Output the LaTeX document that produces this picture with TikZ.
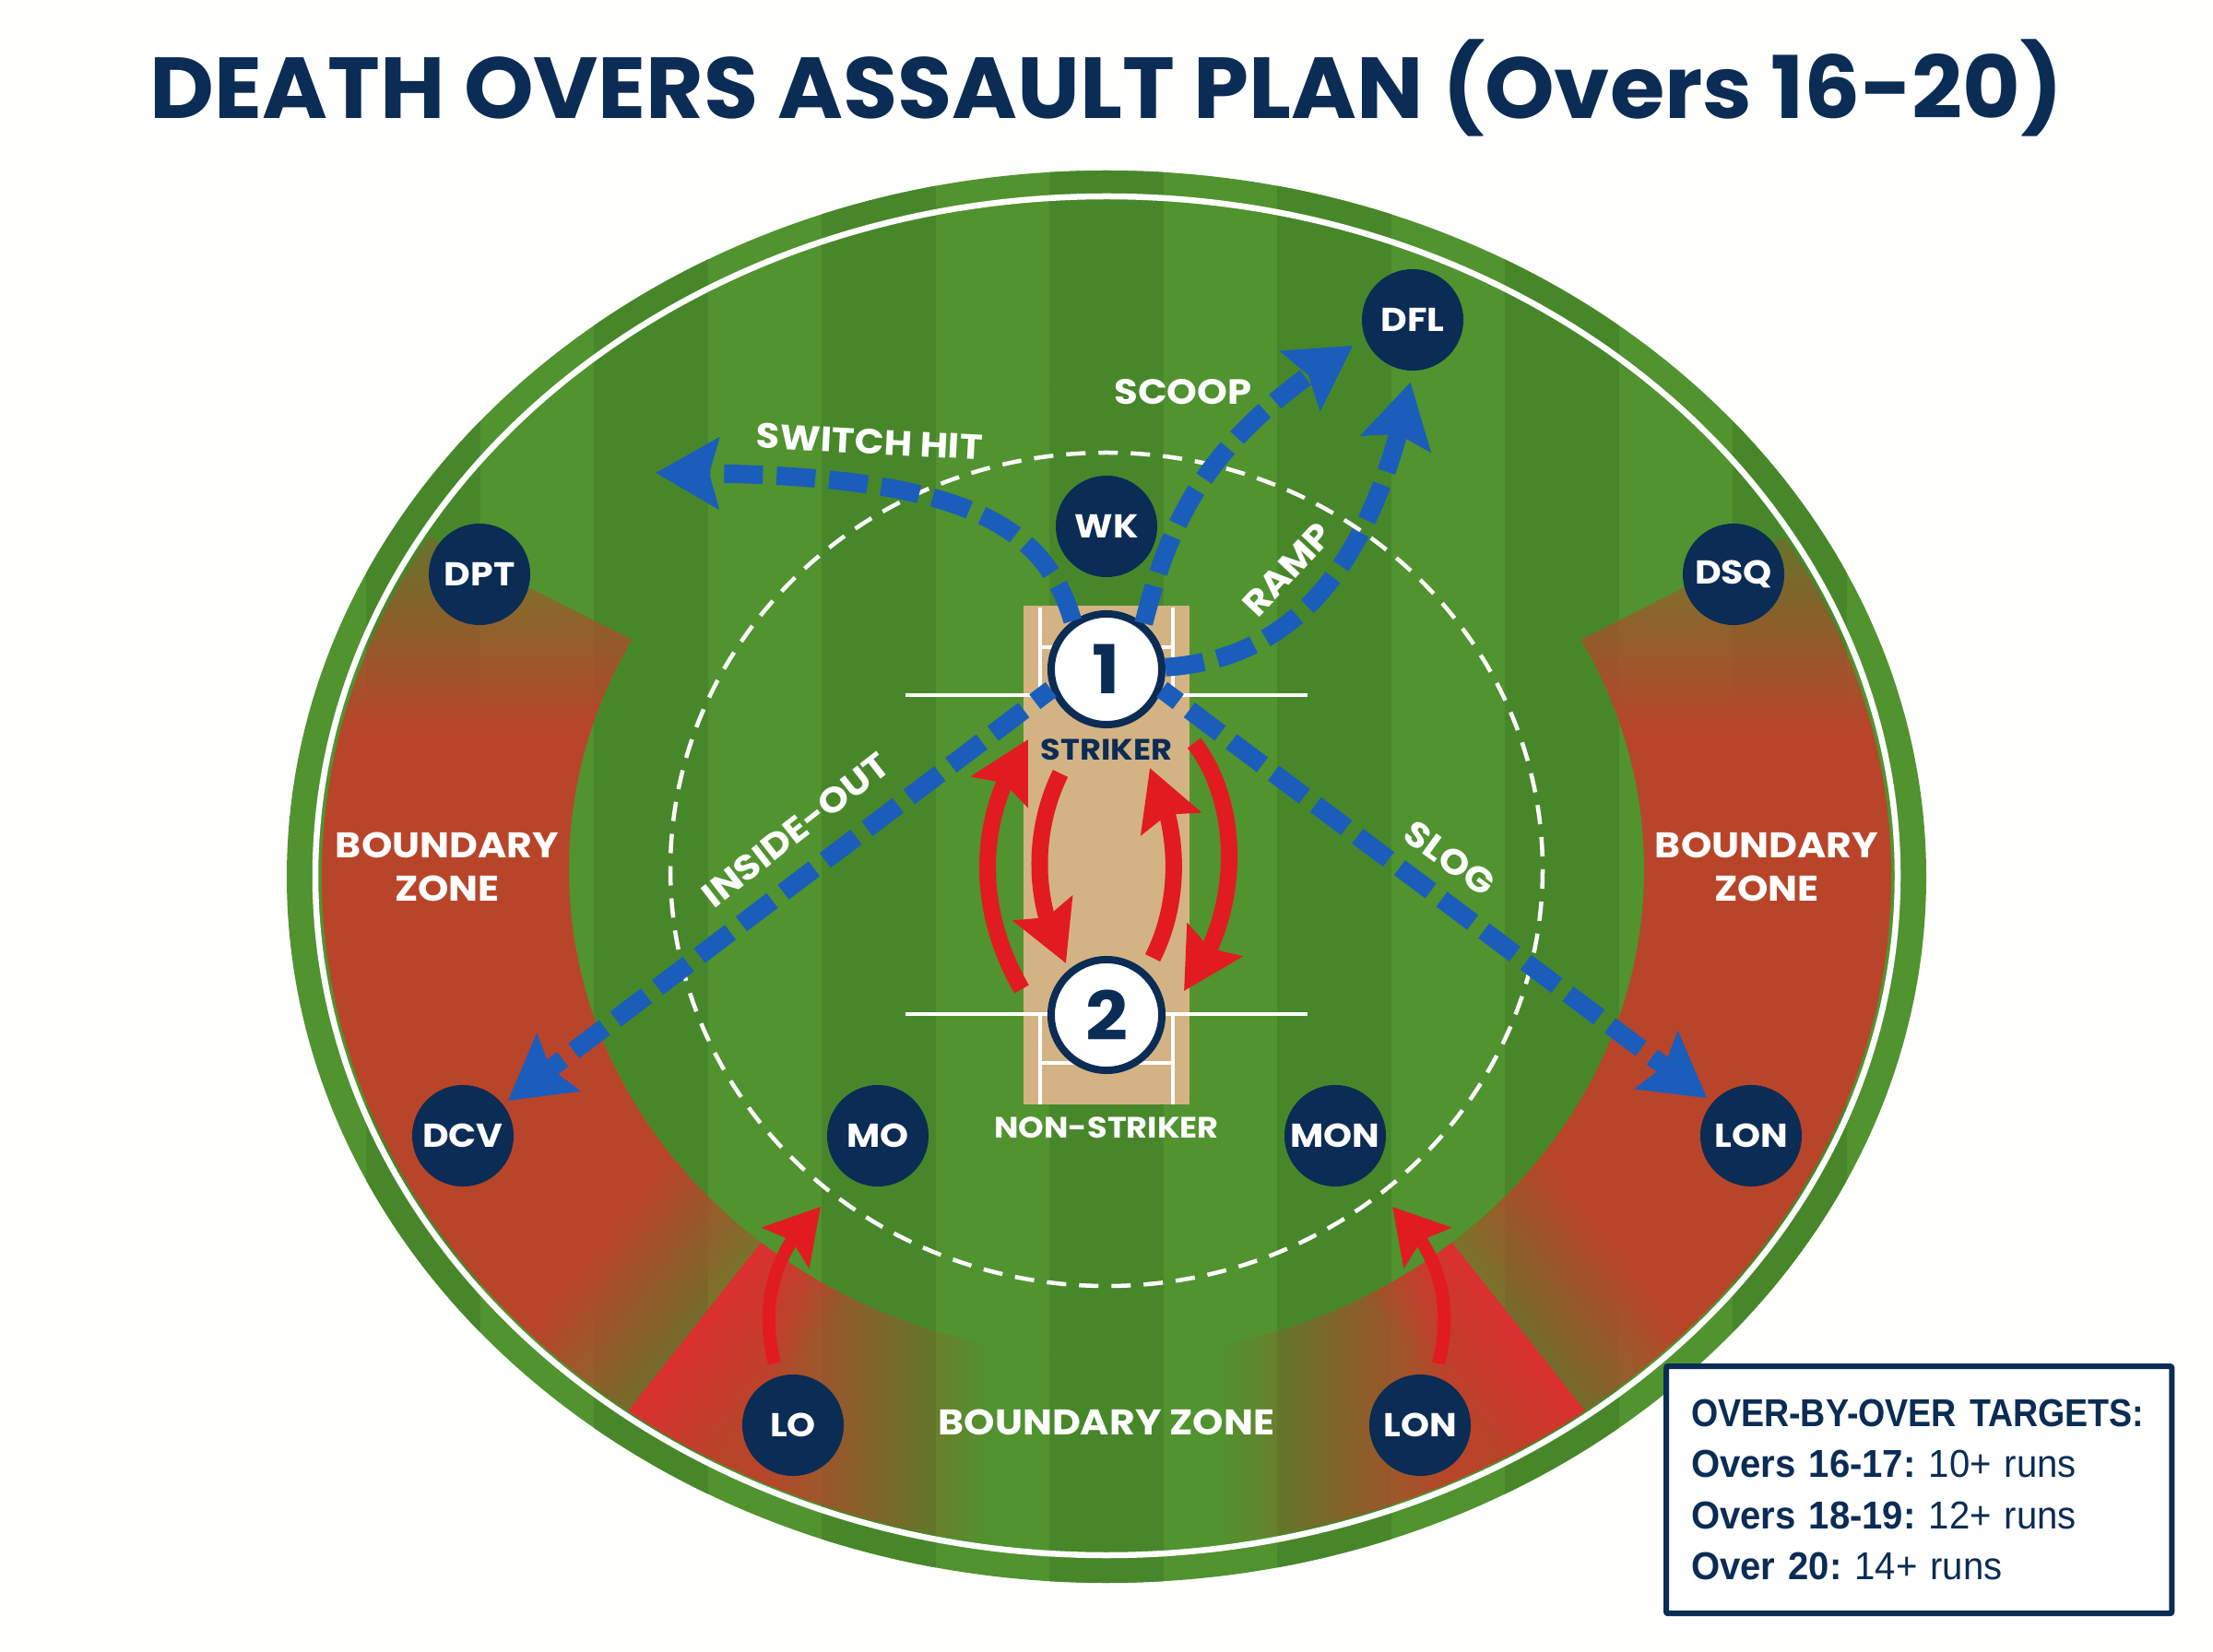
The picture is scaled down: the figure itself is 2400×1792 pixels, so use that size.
\documentclass[tikz,border=0pt]{standalone}
\usepackage{fontspec}
\setmainfont{Poppins}[FakeStretch=1.1]
\newfontfamily\titlefont{Poppins}[FakeStretch=1.025]
\newfontfamily\legfont{Liberation Sans}[FakeStretch=0.95,WordSpace=0.7]
\newfontfamily\leghead{Liberation Sans}[FakeStretch=0.89,WordSpace=0.7]
\usetikzlibrary{arrows.meta,fadings,bending}
\definecolor{navy}{HTML}{0B2C55}
\definecolor{grasslight}{HTML}{50932F}
\definecolor{grassdark}{HTML}{47872A}
\definecolor{zonered}{HTML}{B8452A}
\definecolor{zonebright}{HTML}{DC3030}
\definecolor{pitchtan}{HTML}{D3B383}
\definecolor{shotblue}{HTML}{1B5DBB}
\definecolor{runred}{HTML}{E21B20}
\definecolor{paper}{HTML}{FEFEFC}
\tikzfading[name=zoneup, top color=transparent!100, bottom color=transparent!0]
\tikzfading[name=zoneedge, left color=transparent!60, right color=transparent!0]
\tikzfading[name=brightedge, left color=transparent!100, right color=transparent!0]
\tikzfading[name=towardright, left color=transparent!0, right color=transparent!100]
\tikzfading[name=towardleft, left color=transparent!100, right color=transparent!0]
\newcommand{\grassbands}{%
  \fill[grasslight] (300,170) rectangle (2100,1730);
  \foreach \k in {-4,...,4}{\fill[grassdark] ({1138+247*\k},170) rectangle ({1262+247*\k},1730);}%
}
\tikzset{
  fielder/.style={circle,fill=navy,text=white,minimum size=1.1cm,inner sep=0pt,font=\bfseries\fontsize{10.2}{12}\selectfont},
  batter/.style={circle,fill=white,draw=navy,line width=0.08cm,minimum size=1.2cm,inner sep=0pt,text=navy,font=\bfseries\fontsize{20.8}{24}\selectfont},
  shotlabel/.style={text=white,inner sep=0pt,font=\bfseries\fontsize{10.8}{13}\selectfont},
  zonelabel/.style={text=white,inner sep=0pt,align=center,font=\bfseries\fontsize{11}{13.4}\selectfont},
  endlabel/.style={inner sep=0pt,font=\bfseries\fontsize{9.1}{11}\selectfont},
  crease/.style={white,line width=0.045cm},
  shot/.style={draw=shotblue,line width=0.2cm,dash pattern=on 0.42cm off 0.15cm,-{Stealth[length=0.68cm,width=0.76cm,inset=0.1cm]}},
  runpath/.style={draw=runred,line width=0.18cm,-{Stealth[length=0.64cm,width=0.68cm,inset=0.1cm]}},
  pushup/.style={draw=runred,line width=0.14cm,-{Stealth[length=0.58cm,width=0.66cm,inset=0.1cm]}},
}
\begin{document}
\begin{tikzpicture}[x=0.01cm,y=-0.01cm]
\useasboundingbox (0,0) rectangle (2400,1792);
\fill[paper] (0,0) rectangle (2400,1792);
% ground
\begin{scope}
  \clip (1200,951) ellipse [x radius=889,y radius=766];
  \grassbands
\end{scope}
% boundary zones
\begin{scope}
  \clip (1200,951) ellipse [x radius=851,y radius=731];
  % left
  \fill[zonered,path fading=zoneup] (300,498) -- (760,732) -- (760,790) -- (300,790) -- cycle;
  \fill[zonered] (300,788) -- (1003,788) -- (1003,912) -- (396,1682) -- (300,1682) -- cycle;
  \fill[zonered,path fading=zoneedge,fit fading=false,fading transform={shift={(719.5,1377)},rotate=141.7,xscale=0.739,yscale=2.72}]
    (919,1229) -- (622,1606) -- (520,1525) -- (817,1148) -- cycle;
  % right
  \fill[zonered,path fading=zoneup] (2100,498) -- (1640,732) -- (1640,790) -- (2100,790) -- cycle;
  \fill[zonered] (2100,788) -- (1397,788) -- (1397,912) -- (2004,1682) -- (2100,1682) -- cycle;
  \fill[zonered,path fading=zoneedge,fit fading=false,fading transform={shift={(1680.5,1377)},rotate=38.3,xscale=0.739,yscale=2.72}]
    (1481,1229) -- (1778,1606) -- (1880,1525) -- (1583,1148) -- cycle;
  % bottom
  \fill[zonered] (826,1347) -- (590,1646) -- (830,1750) -- (830,1340) -- cycle;
  \fill[zonered,path fading=towardright] (828,1340) rectangle (1075,1750);
  \fill[zonered] (1574,1347) -- (1810,1646) -- (1570,1750) -- (1570,1340) -- cycle;
  \fill[zonered,path fading=towardleft] (1325,1340) rectangle (1572,1750);
  \fill[zonebright,path fading=brightedge,fit fading=false,fading transform={shift={(813.5,1451.5)},rotate=141.7,xscale=0.625,yscale=2.72}]
    (919,1229) -- (622,1606) -- (708,1674) -- (1005,1297) -- cycle;
  \fill[zonebright,path fading=brightedge,fit fading=false,fading transform={shift={(1586.5,1451.5)},rotate=38.3,xscale=0.625,yscale=2.72}]
    (1481,1229) -- (1778,1606) -- (1692,1674) -- (1395,1297) -- cycle;
\end{scope}
% inner field
\begin{scope}
  \clip (1200,943) ellipse [x radius=583,y radius=528];
  \grassbands
\end{scope}
% boundary rope and thirty-yard circle
\draw[white,line width=0.065cm] (1200,950) ellipse [x radius=858,y radius=737];
\draw[white,line width=0.045cm,dash pattern=on 0.21cm off 0.14cm] (1200,943) ellipse [x radius=473,y radius=452];
% pitch
\fill[pitchtan] (1110,657) rectangle (1290,1198);
\draw[crease] (982,754) -- (1418,754);
\draw[crease] (982,1100) -- (1418,1100);
\draw[crease] (1128,659) -- (1128,754);
\draw[crease] (1272,659) -- (1272,754);
\draw[crease] (1128,702) -- (1272,702);
\draw[crease] (1128,1100) -- (1128,1198);
\draw[crease] (1272,1100) -- (1272,1198);
\draw[crease] (1128,1153) -- (1272,1153);
% batters
\node[batter] (n1) at (1200,726) {1};
\node[batter] (n2) at (1200,1101) {2};
\node[endlabel,text=navy] (striker) at (1200,813) {STRIKER};
\node[endlabel,text=white] (nonstriker) at (1200,1223) {NON-STRIKER};
% fielders
\node[fielder] (dfl) at (1532,347) {DFL};
\node[fielder] (wk) at (1200,571) {WK};
\node[fielder] (dpt) at (520,623) {DPT};
\node[fielder] (dsq) at (1880,623) {DSQ};
\node[fielder] (dcv) at (502,1232) {DCV};
\node[fielder] (mo) at (952,1232) {MO};
\node[fielder] (mon) at (1448,1232) {MON};
\node[fielder] (lonr) at (1899,1232) {LON};
\node[fielder] (lo) at (860,1546) {LO};
\node[fielder] (lonb) at (1540,1546) {LON};
% shots
\coordinate (switchend) at (711,513);
\draw[shot] (n1.125) .. controls (1130,560) and (1030,512) .. (switchend);
\draw[shot,shorten >=0.15cm] (n1.51) .. controls (1270,560) and (1310,470) .. (dfl.201);
\draw[shot,shorten >=0.12cm] (n1.2) .. controls (1400,715) and (1490,620) .. (dfl.south);
\draw[shot,dash phase=0.2cm,shorten >=0.06cm] (n1.200) -- (dcv.38);
\draw[shot,dash phase=0.2cm,shorten >=0.07cm] (n1.-20) -- (lonr.139);
% running between the wickets
\coordinate (runAstart) at (1108,1073);
\coordinate (runAend) at (1115,802);
\coordinate (runBstart) at (1150,839);
\coordinate (runBend) at (1156,1045);
\coordinate (runCstart) at (1250,1039);
\coordinate (runCend) at (1247,833);
\coordinate (runDstart) at (1295,806);
\coordinate (runDend) at (1284,1075);
\draw[runpath] (runAstart) .. controls (1060,990) and (1055,890) .. (runAend);
\draw[runpath] (runBstart) .. controls (1120,900) and (1118,980) .. (runBend);
\draw[runpath] (runCstart) .. controls (1280,980) and (1282,900) .. (runCend);
\draw[runpath] (runDstart) .. controls (1345,870) and (1350,990) .. (runDend);
% boundary riders pushing in
\coordinate (pushLstart) at (840,1479);
\coordinate (pushLend) at (890,1309);
\coordinate (pushRstart) at (1560,1479);
\coordinate (pushRend) at (1510,1309);
\draw[pushup] (pushLstart) .. controls (825,1420) and (835,1360) .. (pushLend);
\draw[pushup] (pushRstart) .. controls (1575,1420) and (1565,1360) .. (pushRend);
% labels
\node[shotlabel,rotate=-3] (lswitch) at (943,479) {SWITCH HIT};
\node[shotlabel] (lscoop) at (1283,425) {SCOOP};
\node[shotlabel,rotate=47] (lramp) at (1396,618) {RAMP};
\node[shotlabel,rotate=38] (linside) at (863,900) {INSIDE-OUT};
\node[shotlabel,rotate=-36] (lslog) at (1572,931) {SLOG};
\node[zonelabel] (zoneleft) at (485,940) {BOUNDARY\\ZONE};
\node[zonelabel] (zoneright) at (1916,940) {BOUNDARY\\ZONE};
\node[zonelabel] (zonebottom) at (1200,1543) {BOUNDARY ZONE};
% title
\node[text=navy,inner sep=0pt,font=\titlefont\bfseries\fontsize{26.7}{32}\selectfont] (title) at (1200,95) {DEATH OVERS ASSAULT PLAN (Overs 16-20)};
% legend
\node[anchor=north west,draw=navy,fill=white,line width=0.06cm,rounded corners=0.02cm,minimum width=5.48cm,minimum height=2.68cm,text width=4.94cm,inner xsep=0.27cm,inner ysep=0pt,align=left,text=navy,font=\legfont\fontsize{12}{15.8}\selectfont] (legend) at (1804,1479)
 {\mbox{\leghead\bfseries OVER-BY-OVER TARGETS:}\\\mbox{\bfseries Overs 16-17:} 10+ runs\\\mbox{\bfseries Overs 18-19:} 12+ runs\\\mbox{\bfseries Over 20:} 14+ runs};
\end{tikzpicture}
\end{document}
